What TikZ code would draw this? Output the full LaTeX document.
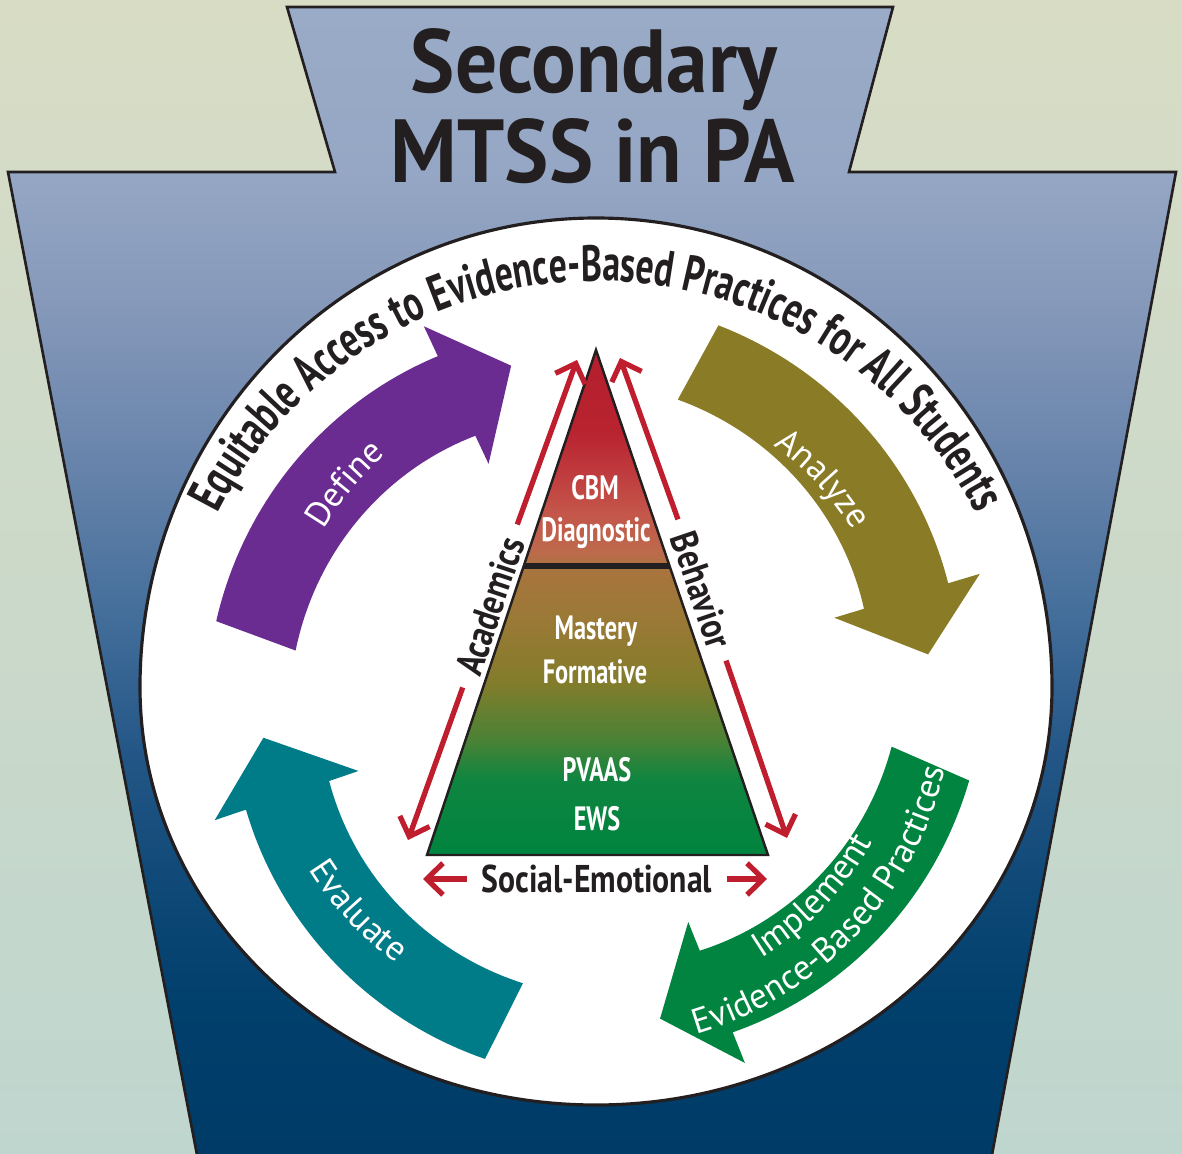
\documentclass[tikz,border=0pt]{standalone}
\usepackage{fontspec}
\setmainfont{PT Sans}
\newfontfamily\titlefont[FakeStretch=0.93]{PT Sans}
\newfontfamily\ringfont[FakeStretch=0.7]{PT Sans}
\newfontfamily\tierfont[FakeStretch=0.72]{PT Sans}
\newfontfamily\sidefont[FakeStretch=0.82]{PT Sans}
\usetikzlibrary{arrows.meta,calc,decorations.text}

\definecolor{inkblack}{HTML}{231F20}
\definecolor{arrowred}{HTML}{BE1E2D}
\definecolor{definepurple}{HTML}{6A2C91}
\definecolor{analyzeolive}{HTML}{8A7B26}
\definecolor{implementgreen}{HTML}{00843F}
\definecolor{evaluateteal}{HTML}{007C89}
\definecolor{bgtop}{HTML}{D8DCC5}
\definecolor{bgmid}{HTML}{D1E0D3}
\definecolor{bgbottom}{HTML}{BFD6CE}
% keystone colours, bottom to top
\definecolor{keyA}{HTML}{003B67}
\definecolor{keyB}{HTML}{013F6C}
\definecolor{keyC}{HTML}{0C4775}
\definecolor{keyD}{HTML}{235686}
\definecolor{keyE}{HTML}{46709C}
\definecolor{keyF}{HTML}{6A85AC}
\definecolor{keyG}{HTML}{8699BA}
\definecolor{keyH}{HTML}{95A7C4}
\definecolor{keyI}{HTML}{9AABC7}
% pyramid colours, bottom to top
\definecolor{pyrA}{HTML}{00843F}
\definecolor{pyrB}{HTML}{0E8540}
\definecolor{pyrC}{HTML}{4A8235}
\definecolor{pyrD}{HTML}{847C2B}
\definecolor{pyrE}{HTML}{9A7936}
\definecolor{pyrF}{HTML}{A9743E}
\definecolor{pyrG}{HTML}{BD6A4C}
\definecolor{pyrH}{HTML}{C4554A}
\definecolor{pyrI}{HTML}{BF3A3D}
\definecolor{pyrJ}{HTML}{B8232F}
\definecolor{pyrK}{HTML}{B51F2E}

\pgfdeclareverticalshading{keyshade}{100bp}{color(0bp)=(keyA); color(25bp)=(keyA);
  color(31.7bp)=(keyB); color(36.1bp)=(keyC); color(42.6bp)=(keyD); color(49.1bp)=(keyE);
  color(55.7bp)=(keyF); color(62.2bp)=(keyG); color(67.9bp)=(keyH); color(75bp)=(keyI);
  color(100bp)=(keyI)}
\pgfdeclareverticalshading{pyrshade}{100bp}{color(0bp)=(pyrA); color(25bp)=(pyrA);
  color(32.4bp)=(pyrB); color(36.4bp)=(pyrC); color(42.3bp)=(pyrD); color(48.3bp)=(pyrE);
  color(53.4bp)=(pyrF); color(55bp)=(pyrG); color(59bp)=(pyrH); color(63bp)=(pyrI);
  color(67bp)=(pyrJ); color(75bp)=(pyrK); color(100bp)=(pyrK)}

% one curved cycle arrow, #2 = angle of its tail
\newcommand{\cyclearrow}[2]{%
  \fill[#1] plot[domain=0:1, samples=40] ({#2-54.5*\x}:{385-16*\x})
    -- ({#2-54.5}:402) -- ({#2-65.2}:335) -- ({#2-54.5}:250)
    -- plot[domain=0:1, samples=40] ({#2-54.5+57.3*\x}:{281+21*\x}) -- cycle;}

\begin{document}
\begin{tikzpicture}[x=0.1mm, y=0.1mm,
  redarrow/.style={draw=arrowred, line width=1.5pt, -{Straight Barb[length=4.6pt, width=9pt]}},
  tierlabel/.style={text=white, font=\tierfont\bfseries\fontsize{9.6}{11}\selectfont, inner sep=1pt},
  sidelabel/.style={text=inkblack, font=\sidefont\bfseries\fontsize{11}{13}\selectfont, inner sep=4pt},
  arclabel/.style={decorate, decoration={text along path, text align=center, text color=white,
    text={|\fontsize{10}{12}\selectfont|#1}}}]
  \useasboundingbox (0,0) rectangle (1182,-1154);
  \clip (0,0) rectangle (1182,-1154);

  % background and keystone
  \shade[top color=bgtop, middle color=bgmid, bottom color=bgbottom] (0,0) rectangle (1182,-1154);
  \shadedraw[shading=keyshade, draw=inkblack, line width=0.75pt]
    (287,-7) -- (893,-7) -- (849,-172) -- (1176,-172) -- (991,-1160)
    -- (198,-1160) -- (8,-172) -- (335,-172) -- cycle;
  \filldraw[fill=white, draw=inkblack, line width=0.9pt] (140,-687)
    arc[start angle=180, end angle=0, x radius=456, y radius=469]
    arc[start angle=0, end angle=-180, x radius=456, y radius=418] -- cycle;

  % title
  \node[anchor=base, text=inkblack, font=\titlefont\bfseries\fontsize{25.5}{28}\selectfont] (title1) at (594,-93) {Secondary};
  \node[anchor=base, text=inkblack, font=\titlefont\bfseries\fontsize{25.5}{28}\selectfont] (title2) at (593,-183) {MTSS in PA};

  % text round the ring
  \coordinate (ringc) at (597,-706);
  \path[decorate, decoration={text along path, text align=center, text color=inkblack,
      text={|\ringfont\bfseries\fontsize{14.5}{16}\selectfont|Equitable Access to Evidence-Based Practices for All Students}}]
    ([shift={(166:425)}]ringc) arc[start angle=166, end angle=14, radius=425];

  % the four cycle arrows
  \begin{scope}[shift={(595,-690)}]
    \cyclearrow{definepurple}{169.7}
    \cyclearrow{analyzeolive}{71.3}
    \cyclearrow{implementgreen}{-13.6}
    \cyclearrow{evaluateteal}{253.4}
    \path[arclabel=Define] (180:315) arc[start angle=180, end angle=101, radius=315];
    \path[arclabel=Analyze] (82:303) arc[start angle=82, end angle=3.6, radius=303];
    \path[arclabel=Evaluate] (185:338) arc[start angle=185, end angle=261, radius=338];
    \path[arclabel=Implement] (-82:316) arc[start angle=-82, end angle=-5, radius=316];
    \path[arclabel=Evidence-Based Practices] (-88:359) arc[start angle=-88, end angle=1.6, radius=359];
  \end{scope}

  % pyramid
  \coordinate (apex) at (596,-350);
  \coordinate (baseL) at (427,-855);
  \coordinate (baseR) at (768,-855);
  \shadedraw[shading=pyrshade, draw=inkblack, line width=0.7pt] (apex) -- (baseR) -- (baseL) -- cycle;
  \draw[inkblack, line width=1.7pt] ($(baseL)!0.5723!(apex)$) -- ($(baseR)!0.5723!(apex)$);

  \node[tierlabel] (cbm) at (595,-488) {CBM};
  \node[tierlabel] (diagnostic) at (596,-533) {Diagnostic};
  \node[tierlabel] (mastery) at (596,-631) {Mastery};
  \node[tierlabel] (formative) at (595,-672) {Formative};
  \node[tierlabel] (pvaas) at (597,-770) {PVAAS};
  \node[tierlabel] (ews) at (597,-819) {EWS};

  % side labels and red arrows
  \node[sidelabel, rotate=71.5] (acad) at (490,-606) {Academics};
  \node[sidelabel, rotate=-71.2] (behav) at (702,-590) {Behavior};
  \node[sidelabel] (social) at (597,-879) {Social-Emotional};
  \coordinate (acadtop) at (577,-360);
  \coordinate (acadlow) at (408,-840);
  \coordinate (behavtop) at (620,-358);
  \coordinate (behavlow) at (787,-838);
  \coordinate (socialleft) at (423,-879);
  \coordinate (socialright) at (767,-879);
  \draw[redarrow] (acad.east) -- (acadtop);
  \draw[redarrow] (acad.west) -- (acadlow);
  \draw[redarrow] (behav.west) -- (behavtop);
  \draw[redarrow] (behav.east) -- (behavlow);
  \draw[redarrow] (social.west) -- (socialleft);
  \draw[redarrow] (social.east) -- (socialright);
\end{tikzpicture}
\end{document}
